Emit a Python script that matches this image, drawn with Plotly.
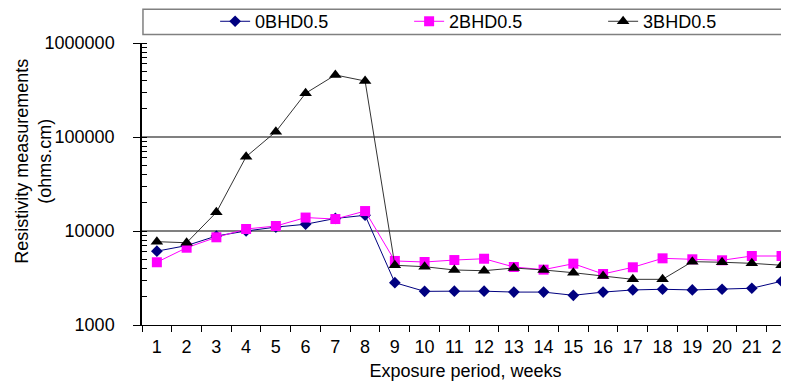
import plotly.graph_objects as go

weeks = [str(i) for i in range(1, 23)]
bhd0 = [6100, 7000, 8850, 10000, 11000, 11800, 13600, 14700, 2820, 2280, 2290, 2290,
        2240, 2240, 2070, 2240, 2360, 2400, 2360, 2400, 2460, 2920]
bhd2 = [4650, 6640, 8570, 10500, 11300, 13900, 13400, 16300, 4800, 4680, 4910, 5070,
        4140, 3880, 4490, 3490, 4110, 5120, 5000, 4880, 5420, 5420]
bhd3 = [7700, 7500, 15800, 61700, 114000, 292000, 457000, 394000, 4320, 4170, 3850, 3780,
        4040, 3850, 3600, 3320, 3060, 3060, 4720, 4650, 4530, 4320]
names = ["0BHD0.5", "2BHD0.5", "3BHD0.5"]
y_ticks = [1000, 10000, 100000, 1000000]

FONT = "Liberation Sans, Arial, sans-serif"

fig = go.Figure()
fig.add_trace(go.Scatter(x=weeks, y=bhd0, name=names[0], mode="lines+markers",
                         line=dict(color="#000080", width=1),
                         marker=dict(symbol="diamond", size=9, color="#000080")))
fig.add_trace(go.Scatter(x=weeks, y=bhd2, name=names[1], mode="lines+markers",
                         line=dict(color="#FF00FF", width=1),
                         marker=dict(symbol="square", size=10, color="#FF00FF")))
fig.add_trace(go.Scatter(x=weeks, y=bhd3, name=names[2], mode="lines+markers",
                         line=dict(color="#333333", width=1),
                         marker=dict(symbol="triangle-up", size=11, color="#000000")))

fig.update_layout(
    width=781, height=377,
    margin=dict(l=134, r=0, t=35, b=60, autoexpand=False),
    paper_bgcolor="white", plot_bgcolor="white",
    font=dict(family=FONT, color="black"),
    showlegend=True,
    legend=dict(orientation="h", x=0.113, xanchor="left", y=1.076, yanchor="middle",
                entrywidth=149, entrywidthmode="pixels", itemwidth=30,
                font=dict(size=18, family=FONT), bgcolor="rgba(0,0,0,0)", borderwidth=0),
    xaxis=dict(type="category", range=[-0.5, 21.25], tickson="boundaries",
               ticks="outside", ticklen=6, tickcolor="black", showline=True,
               linecolor="black", linewidth=1, showgrid=False, zeroline=False,
               automargin=False, ticklabelstandoff=5,
               tickfont=dict(size=18, family=FONT),
               title=dict(text="Exposure period, weeks", font=dict(size=18, family=FONT), standoff=8)),
    yaxis=dict(type="log", range=[3, 6], tickvals=y_ticks, ticktext=[str(v) for v in y_ticks],
               ticks="outside", ticklen=7, tickcolor="black", showline=True,
               linecolor="black", linewidth=1.5, showgrid=True, gridcolor="#808080",
               gridwidth=1.5, zeroline=False, automargin=False, ticklabelstandoff=15,
               tickfont=dict(size=18, family=FONT),
               minor=dict(ticks="inside", ticklen=5, tickcolor="black", dtick="D1", showgrid=False)),
)

fig.add_shape(type="rect", xref="paper", yref="paper", x0=0.0015, x1=1.05, y0=1.03, y1=1.12,
              line=dict(color="#808080", width=1.5), fillcolor="rgba(0,0,0,0)", layer="below")

fig.add_annotation(text="Resistivity measurements<br>(ohms.cm)", xref="paper", yref="paper",
                   x=-0.168, y=0.58, xanchor="center", yanchor="middle", textangle=-90,
                   showarrow=False, font=dict(size=18, family=FONT))

fig.write_html("out.html")
